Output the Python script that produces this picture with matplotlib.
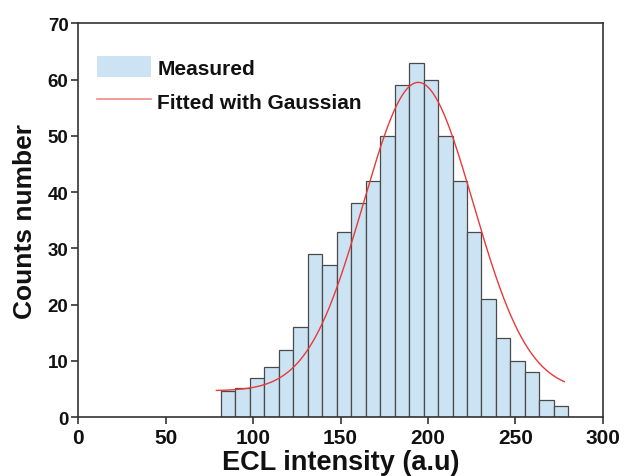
import numpy as np
import matplotlib
matplotlib.use("Agg")
import matplotlib.pyplot as plt
from matplotlib.patches import Patch
from matplotlib.lines import Line2D

plt.rcParams['font.family'] = ['Liberation Sans', 'DejaVu Sans']

# Histogram data (ECL intensity bins)
bin_start = 81.6
bin_width = 8.28
counts = [4.7, 5.2, 7, 9, 12, 16, 29, 27, 33, 38, 42, 50, 59, 63, 60, 50,
          42, 33, 21, 14, 10, 8, 3, 2]

# Gaussian fit parameters
g_offset = 4.7
g_amp = 54.8
g_center = 194.5
g_width = 31.5
fit_range = [79, 278]

x_ticks = [0, 50, 100, 150, 200, 250, 300]
y_ticks = [0, 10, 20, 30, 40, 50, 60, 70]

fig = plt.figure(figsize=(6.24, 4.77), dpi=100)
ax = fig.add_axes([0.1255, 0.1231, 0.9659 - 0.1255, 0.9491 - 0.1231])

edges = bin_start + bin_width * np.arange(len(counts))
ax.bar(edges, counts, width=bin_width, align='edge', color='#cce3f3',
       edgecolor='#4a4a4a', linewidth=0.9, zorder=2)

xf = np.linspace(fit_range[0], fit_range[1], 400)
yf = g_offset + g_amp * np.exp(-(xf - g_center) ** 2 / (2 * g_width ** 2))
ax.plot(xf, yf, color='#e8393a', linewidth=1.0, zorder=3)

ax.set_xlim(0, 300)
ax.set_ylim(0, 70)
ax.set_xticks(x_ticks)
ax.set_yticks(y_ticks)
for s in ax.spines.values():
    s.set_color('#333333')
    s.set_linewidth(1.2)
ax.tick_params(direction='out', length=5, width=1.2, color='#333333')
ax.tick_params(axis='x', labelsize=15, pad=3)
ax.tick_params(axis='y', labelsize=13.5, pad=2)
for lab in ax.get_xticklabels() + ax.get_yticklabels():
    lab.set_fontweight('bold')
    lab.set_color('#111111')

ax.set_xlabel('ECL intensity (a.u)', fontsize=19.5, fontweight='bold',
              color='#111111', labelpad=1)
ax.set_ylabel('Counts number', fontsize=19, fontweight='bold',
              color='#111111', labelpad=8)

handles = [Patch(facecolor='#cce3f3', edgecolor='none'),
           Line2D([0], [0], color='#f08a8a', linewidth=1.2)]
leg = ax.legend(handles, ['Measured', 'Fitted with Gaussian'],
                loc='upper left', bbox_to_anchor=(0.0357, 0.917),
                frameon=False, borderpad=0, borderaxespad=0,
                handlelength=2.6, handleheight=1.2, handletextpad=0.3,
                labelspacing=0.6, prop={'size': 15, 'weight': 'bold'})
for t in leg.get_texts():
    t.set_color('#111111')

fig.savefig('out.png', dpi=100)
